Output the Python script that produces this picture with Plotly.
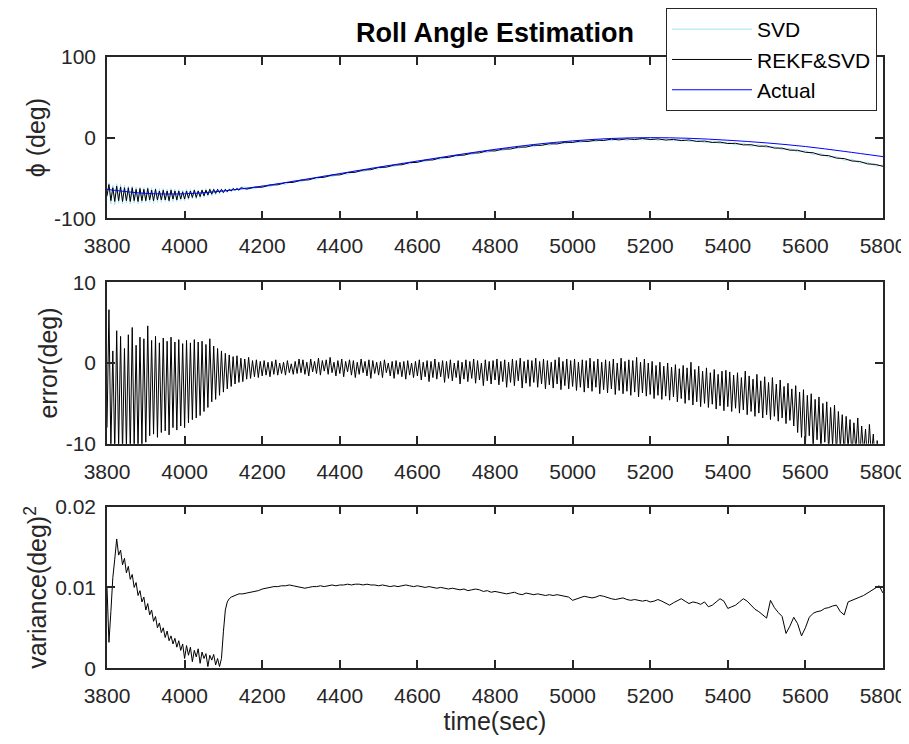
import plotly.graph_objects as go

# ---------------- data ----------------
x_ticks = [3800, 4000, 4200, 4400, 4600, 4800, 5000, 5200, 5400, 5600, 5800]
x_ticklabels = ["3800", "4000", "4200", "4400", "4600", "4800", "5000", "5200", "5400", "5600", "5800"]

phi_ticks = [-100, 0, 100]
phi_ticklabels = ["-100", "0", "100"]
err_ticks = [-10, 0, 10]
err_ticklabels = ["-10", "0", "10"]
var_ticks = [0, 0.01, 0.02]
var_ticklabels = ["0", "0.01", "0.02"]

# Actual roll angle (deg), every 100 s
t_actual = list(range(3800, 5801, 100))
actual = [-64, -69, -69.5, -66, -60, -52.5, -44.5, -36.5, -29, -21.5, -14.5,
          -8.5, -4, -1, 0, -0.8, -3.2, -6.5, -11, -17, -23.5]

# Estimates: every 5 s up to 4145 s, then every 20 s
t_est = list(range(3800, 4150, 5)) + list(range(4160, 5801, 20))
rekf_svd = [
    -72, -58, -78, -62, -79, -60, -78, -61, -79, -62,
    -78, -62, -79, -62, -78, -64, -79, -63, -78, -64,
    -78, -63, -77, -65, -78, -64, -77, -66, -77, -65,
    -77, -66, -78, -65, -76, -66, -77, -66, -76, -67,
    -76, -66, -75, -66, -74, -65, -74, -66, -73, -65,
    -72, -65, -71, -64, -70, -64, -69, -64, -68, -64,
    -68, -64, -67, -64, -66, -63, -65, -63, -65, -62,
    -63.8, -61.4, -61.4, -58.7, -58.4, -55.7, -55.4, -52.7, -52.3, -49.5, -49.1, -46.3,
    -46.1, -43.3, -42.9, -40.1, -39.7, -36.9, -36.6, -33.9, -33.6, -30.9,
    -30.6, -27.9, -27.6, -24.9, -24.6, -21.9, -21.7, -19.1, -18.9, -16.3,
    -16.5, -14.1, -14.1, -11.7, -11.7, -9.3, -9.6, -7.5, -7.8, -5.7,
    -6.0, -4.2, -4.8, -3.0, -3.6, -1.8, -2.8, -1.4, -2.4, -1.0,
    -2.4, -1.5, -3.0, -2.2, -3.7, -2.8, -4.7, -4.2, -6.0, -5.5,
    -7.3, -7.0, -9.0, -8.7, -10.7, -10.4, -12.9, -13.0, -15.5, -15.6,
    -18.1, -18.7, -21.7, -22.3, -25.3, -25.9, -28.9, -29.5, -32.5, -33.1, -35.5,
]
svd = [
    -74, -56, -82, -59, -83, -57, -81, -58, -82, -59,
    -81, -60, -82, -60, -81, -61, -82, -61, -81, -62,
    -80, -61, -80, -62, -81, -62, -80, -63, -80, -63,
    -79, -64, -80, -63, -79, -64, -79, -64, -78, -65,
    -78, -64, -77, -64, -76, -64, -76, -65, -75, -64,
    -74, -63, -73, -63, -72, -63, -71, -63, -70, -63,
    -69, -63, -68, -63, -67, -62, -66, -62, -66, -61,
    -61.7, -63.5, -59.3, -60.8, -56.3, -57.8, -53.3, -54.8, -50.2, -51.6, -47.0, -48.4,
    -44.0, -45.4, -40.8, -42.2, -37.6, -39.0, -34.5, -36.0, -31.5, -33.0,
    -28.5, -30.0, -25.5, -27.0, -22.5, -24.0, -19.6, -21.2, -16.8, -18.4,
    -14.4, -16.2, -12.0, -13.8, -9.6, -11.4, -7.5, -9.6, -5.7, -7.8,
    -3.9, -6.3, -2.7, -5.1, -1.5, -3.9, -0.7, -3.5, -0.3, -3.1,
    -0.3, -3.6, -0.9, -4.3, -1.6, -4.9, -2.6, -6.3, -3.9, -7.6,
    -5.2, -9.1, -6.9, -10.8, -8.6, -12.5, -10.8, -15.1, -13.4, -17.7,
    -16.0, -20.8, -19.6, -24.4, -23.2, -28.0, -26.8, -31.6, -30.4, -35.2, -34.0,
]

# Estimation error (deg), every 5 s
t_err = list(range(3800, 5801, 5))
error = [
    -8, 6.6, -10.5, 1.5, -11, 4.0, -10.4, 3.3, -11.2, 1.8,
    -10.6, 3.5, -11, 4.4, -10.3, 2.2, -10.8, 3.2, -10.1, 3.0,
    -9.8, 4.6, -9.0, 2.8, -8.8, 3.3, -9.2, 2.5, -8.6, 3.1,
    -8.4, 2.7, -8.9, 3.2, -8.0, 2.6, -8.3, 2.9, -7.8, 2.4,
    -8.0, 2.8, -7.4, 2.5, -7.0, 2.9, -6.8, 2.6, -6.5, 2.7,
    -6.0, 2.3, -5.5, 3.0, -4.8, 2.1, -4.5, 1.8, -4.0, 1.5,
    -3.6, 1.2, -3.2, 1.0, -2.9, 0.8, -2.6, 0.9, -2.4, 0.6,
    -2.3, 0.5, -2.0, 0.7, -1.9, 0.3, -1.7, 0.4, -1.8, 0.2,
    -1.6, 0.3, -1.5, 0.1, -1.7, 0.2, -1.4, 0.4, -1.5, 0.0,
    -1.3, 0.1, -1.5, 0.3, -1.2, -0.1, -1.4, 0.2, -1.3, 0.5,
    -1.2, 0.4, -1.4, 0.1, -1.6, 0.5, -1.1, 0.2, -1.3, 0.6,
    -1.5, 0.3, -1.0, 0.4, -1.4, 0.7, -1.2, 0.1, -1.6, 0.3,
    -1.3, 0.5, -1.7, 0.2, -1.1, 0.4, -1.5, 0.3, -1.8, 0.1,
    -1.4, 0.5, -1.2, 0.2, -1.6, 0.4, -1.9, 0.3, -1.3, 0.1,
    -1.5, 0.2, -1.8, 0.4, -1.2, 0.0, -1.6, 0.2, -1.9, 0.3,
    -1.4, 0.1, -1.7, 0.2, -2.0, 0.3, -1.5, 0.0, -1.8, 0.2,
    -1.6, 0.4, -2.1, 0.1, -1.7, 0.3, -2.3, 0.2, -1.8, 0.5,
    -2.0, 0.1, -1.7, 0.3, -2.4, 0.2, -1.9, 0.4, -2.2, 0.0,
    -1.8, 0.3, -2.6, 0.1, -2.0, 0.4, -2.3, 0.2, -1.9, 0.5,
    -2.5, 0.3, -2.1, 0.0, -2.8, 0.4, -2.2, 0.2, -2.6, 0.3,
    -2.1, 0.5, -2.7, 0.2, -2.3, 0.4, -3.0, 0.1, -2.4, 0.5,
    -2.8, 0.3, -2.2, 0.6, -3.1, 0.2, -2.5, 0.4, -2.9, 0.3,
    -2.4, 0.6, -3.0, 0.2, -2.6, 0.5, -3.2, 0.3, -2.7, 0.1,
    -3.1, 0.4, -2.6, 0.7, -3.3, 0.2, -2.8, 0.5, -3.2, 0.3,
    -2.9, 0.5, -3.4, 0.1, -3.0, 0.4, -3.6, 0.3, -3.1, 0.6,
    -3.5, 0.2, -3.0, 0.5, -3.8, 0.1, -3.3, 0.4, -3.7, 0.2,
    -3.2, 0.5, -3.9, 0.0, -3.4, 0.6, -3.8, 0.2, -3.5, 0.4,
    -4.0, 0.3, -3.6, 0.7, -4.2, 0.1, -3.7, 0.5, -4.1, 0.0,
    -3.9, 0.2, -4.4, -0.3, -4.0, 0.1, -4.5, -0.4, -4.1, 0.0,
    -4.6, -0.5, -4.2, -0.2, -4.8, -0.7, -4.4, -0.3, -5.0, -0.6,
    -4.6, 0.1, -5.2, -0.8, -4.8, -0.4, -5.4, -1.0, -5.0, -0.6,
    -5.5, -1.2, -5.1, -0.8, -5.7, -1.4, -5.3, -1.0, -5.9, -0.9,
    -5.4, -1.1, -6.0, -1.5, -5.6, -1.2, -6.2, -1.8, -5.8, -1.0,
    -6.4, -1.6, -6.0, -2.0, -6.6, -1.4, -6.2, -2.2, -6.8, -1.7,
    -6.4, -2.4, -7.0, -1.8, -6.6, -2.6, -7.2, -2.1, -6.8, -2.9,
    -7.5, -2.5, -7.1, -3.2, -7.8, -2.8, -8.6, -3.6, -9.2, -3.3,
    -10.2, -4.0, -9.0, -3.8, -10.5, -4.5, -9.5, -4.2, -10.8, -5.0,
    -9.8, -4.8, -11, -5.5, -10.2, -5.2, -11.3, -6.0, -10.5, -6.4,
    -11.5, -6.6, -10.6, -7.0, -11.8, -7.4, -10.9, -6.8, -12, -7.8,
    -11.2, -8.2, -12.2, -7.6, -11.5, -8.8, -12.5, -9.6, -11.8, -10.3,
    -12,
]

# Error variance (deg^2): every 5 s up to 4145 s, then every 10 s
t_var = list(range(3800, 4150, 5)) + list(range(4150, 5801, 10))
variance = [
    0.0100, 0.0032, 0.0070, 0.0112, 0.0135, 0.0160, 0.0140, 0.0146, 0.0128, 0.0136,
    0.0118, 0.0126, 0.0110, 0.0116, 0.0100, 0.0106, 0.0090, 0.0096, 0.0082, 0.0088,
    0.0072, 0.0080, 0.0066, 0.0072, 0.0058, 0.0064, 0.0050, 0.0056, 0.0044, 0.0050,
    0.0038, 0.0046, 0.0034, 0.0040, 0.0030, 0.0037, 0.0026, 0.0034, 0.0022, 0.0030,
    0.0012, 0.0028, 0.0016, 0.0026, 0.0008, 0.0022, 0.0014, 0.0024, 0.0006, 0.0020,
    0.0012, 0.0018, 0.0002, 0.0016, 0.0010, 0.0017, 0.0004, 0.0012, 0.0002, 0.0012,
    0.0045, 0.0072, 0.0082, 0.0086, 0.0088, 0.0089, 0.0090, 0.0091, 0.0092, 0.0092,
    0.0092, 0.0093, 0.0094, 0.0095, 0.0096, 0.0098, 0.0099, 0.0100, 0.0101, 0.0101,
    0.0102, 0.0102, 0.0103, 0.0102, 0.0101, 0.0100, 0.0099, 0.0100, 0.0101, 0.0101,
    0.0102, 0.0101, 0.0102, 0.0103, 0.0102, 0.0103, 0.0103, 0.0104, 0.0103, 0.0104,
    0.0104, 0.0103, 0.0104, 0.0103, 0.0103, 0.0102, 0.0103, 0.0102, 0.0101, 0.0102,
    0.0101, 0.0102, 0.0103, 0.0102, 0.0101, 0.0102, 0.0101, 0.0100, 0.0101, 0.0100,
    0.0099, 0.0100, 0.0099, 0.0098, 0.0099, 0.0098, 0.0097, 0.0098, 0.0096, 0.0097,
    0.0098, 0.0097, 0.0095, 0.0096, 0.0094, 0.0095, 0.0094, 0.0093, 0.0092, 0.0093,
    0.0094, 0.0092, 0.0091, 0.0093, 0.0092, 0.0091, 0.0092, 0.0091, 0.0090, 0.0091,
    0.0090, 0.0091, 0.0090, 0.0089, 0.0088, 0.0084, 0.0086, 0.0088, 0.0089, 0.0088,
    0.0087, 0.0088, 0.0090, 0.0089, 0.0087, 0.0086, 0.0085, 0.0086, 0.0087, 0.0085,
    0.0084, 0.0085, 0.0084, 0.0083, 0.0084, 0.0082, 0.0083, 0.0085, 0.0083, 0.0081,
    0.0078, 0.0081, 0.0084, 0.0086, 0.0083, 0.0080, 0.0082, 0.0081, 0.0079, 0.0082,
    0.0076, 0.0078, 0.0082, 0.0086, 0.0083, 0.0074, 0.0076, 0.0078, 0.0082, 0.0086,
    0.0083, 0.0078, 0.0073, 0.0070, 0.0066, 0.0062, 0.0084, 0.0075, 0.0069, 0.0064,
    0.0043, 0.0052, 0.0063, 0.0055, 0.0040, 0.0050, 0.0063, 0.0068, 0.0070, 0.0071,
    0.0074, 0.0075, 0.0077, 0.0078, 0.0070, 0.0066, 0.0082, 0.0084, 0.0087, 0.0088,
    0.0090, 0.0093, 0.0096, 0.0099, 0.0102, 0.0093,
]

# ---------------- figure ----------------
PAGE_W, PAGE_H = 909, 744
OFF = 8  # page offset of the figure (browser body margin)
W, H = PAGE_W - OFF, PAGE_H - 2 * OFF  # fill the window without creating scrollbars
FONT = "Liberation Sans, Arial, Helvetica, sans-serif"
AX = "#262626"
TICK_SIZE = 21
LABEL_SIZE = 25


def px_x(p):
    return (p - OFF) / W


def px_y(p):
    return 1 - (p - OFF) / H


x_dom = [px_x(107), px_x(883)]
dom_top = [px_y(217), px_y(55)]
dom_mid = [px_y(443), px_y(281)]
dom_bot = [px_y(668), px_y(506)]

fig = go.Figure()

fig.add_trace(go.Scatter(x=t_est, y=svd, mode="lines", name="SVD",
                         line=dict(color="rgb(160,225,250)", width=1),
                         xaxis="x", yaxis="y"))
fig.add_trace(go.Scatter(x=t_est, y=rekf_svd, mode="lines", name="REKF&SVD",
                         line=dict(color="black", width=1),
                         xaxis="x", yaxis="y"))
fig.add_trace(go.Scatter(x=t_actual, y=actual, mode="lines", name="Actual",
                         line=dict(color="rgb(0,0,255)", width=1, shape="spline"),
                         xaxis="x", yaxis="y"))
fig.add_trace(go.Scatter(x=t_err, y=error, mode="lines", showlegend=False,
                         line=dict(color="black", width=1),
                         xaxis="x2", yaxis="y2"))
fig.add_trace(go.Scatter(x=t_var, y=variance, mode="lines", showlegend=False,
                         line=dict(color="black", width=1),
                         xaxis="x3", yaxis="y3"))


def xax(anchor, title=None):
    d = dict(domain=x_dom, anchor=anchor, range=[3800, 5800],
             tickmode="array", tickvals=x_ticks, ticktext=x_ticklabels,
             showline=True, linecolor=AX, linewidth=1.5, mirror="ticks",
             ticks="inside", ticklen=8, tickwidth=1.5, tickcolor=AX,
             showgrid=False, zeroline=False, ticklabelstandoff=8, automargin=False,
             tickfont=dict(family=FONT, size=TICK_SIZE, color=AX))
    if title:
        d["title"] = dict(text=title, font=dict(family=FONT, size=LABEL_SIZE, color=AX),
                          standoff=5)
    return d


def yax(anchor, dom, rng, tv, tt, title):
    return dict(domain=dom, anchor=anchor, range=rng,
                tickmode="array", tickvals=tv, ticktext=tt,
                showline=True, linecolor=AX, linewidth=1.5, mirror="ticks",
                ticks="inside", ticklen=8, tickwidth=1.5, tickcolor=AX,
                showgrid=False, zeroline=False, ticklabelstandoff=5, automargin=False,
                tickfont=dict(family=FONT, size=TICK_SIZE, color=AX),
                title=dict(text=title, font=dict(family=FONT, size=LABEL_SIZE, color=AX),
                           standoff=1))


fig.update_layout(
    width=W, height=H,
    margin=dict(l=0, r=0, t=0, b=0, pad=0),
    paper_bgcolor="white", plot_bgcolor="white",
    font=dict(family=FONT, color=AX),
    title=dict(text="<b>Roll Angle Estimation</b>", x=px_x(495), xanchor="center",
               y=px_y(33), yanchor="middle", automargin=False,
               font=dict(family=FONT, size=27, color="black")),
    xaxis=xax("y"),
    yaxis=yax("x", dom_top, [-100, 100], phi_ticks, phi_ticklabels, "ϕ (deg)"),
    xaxis2=xax("y2"),
    yaxis2=yax("x2", dom_mid, [-10, 10], err_ticks, err_ticklabels, "error(deg)"),
    xaxis3=xax("y3", "time(sec)"),
    yaxis3=yax("x3", dom_bot, [0, 0.02], var_ticks, var_ticklabels, "variance(deg)<sup>2</sup>"),
    legend=dict(x=px_x(666), y=px_y(6), xanchor="left", yanchor="top",
                bgcolor="white", bordercolor=AX, borderwidth=1,
                font=dict(family=FONT, size=21, color="black"),
                itemwidth=80, tracegroupgap=0),
    showlegend=True,
)

fig.write_html("out.html")
